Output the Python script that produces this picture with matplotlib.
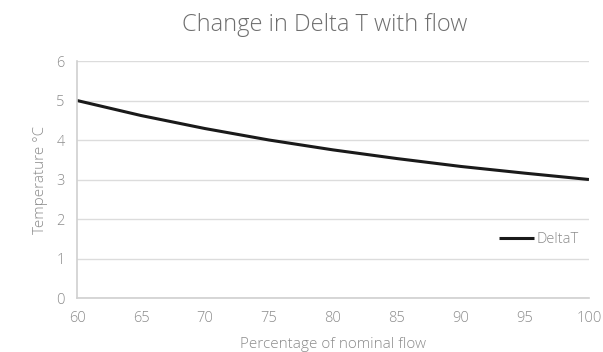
import matplotlib
matplotlib.use("Agg")
import matplotlib.pyplot as plt

# -----------------------------
# Data
# -----------------------------
flow_pct = [60, 65, 70, 75, 80, 85, 90, 95, 100]
delta_t = [5.0, 4.62, 4.29, 4.0, 3.75, 3.53, 3.33, 3.16, 3.0]
y_ticks = [0, 1, 2, 3, 4, 5, 6]
x_ticks = [60, 65, 70, 75, 80, 85, 90, 95, 100]

plt.rcParams["font.family"] = ["Open Sans", "DejaVu Sans"]
plt.rcParams["font.weight"] = "light"

# -----------------------------
# Plot
# -----------------------------
fig = plt.figure(figsize=(6.03, 3.52), dpi=100)
ax = fig.add_axes([0.1277, 0.1534, 0.849, 0.6733])

ax.plot(flow_pct, delta_t, color="#1a1a1a", linewidth=2.2, label="DeltaT",
        solid_capstyle="butt")

ax.set_xlim(60, 100)
ax.set_ylim(0, 6)
ax.set_xticks(x_ticks)
ax.set_yticks(y_ticks)
ax.grid(axis="y", color="#dcdcdc", linewidth=1)
ax.set_axisbelow(True)

for side in ["top", "right"]:
    ax.spines[side].set_visible(False)
for side in ["left", "bottom"]:
    ax.spines[side].set_color("#d0d0d0")
    ax.spines[side].set_linewidth(1.2)

ax.tick_params(length=0, colors="#8c8c8c", labelsize=10.5, pad=9)

fig.text(0.539, 0.93, "Change in Delta T with flow", ha="center", va="center",
         fontsize=17, color="#6e6e6e", fontweight="light")
ax.set_xlabel("Percentage of nominal flow", fontsize=11, color="#8c8c8c", labelpad=8,
              fontweight="light")
ax.set_ylabel("Temperature °C", fontsize=11, color="#8c8c8c", labelpad=6,
              fontweight="light")

leg = ax.legend(loc="center right", bbox_to_anchor=(1.0, 0.245), frameon=False,
                fontsize=10.5, handlelength=2.4, handletextpad=0.2, borderaxespad=0.3)
for t in leg.get_texts():
    t.set_color("#8c8c8c")

fig.savefig("out.png", dpi=100)
